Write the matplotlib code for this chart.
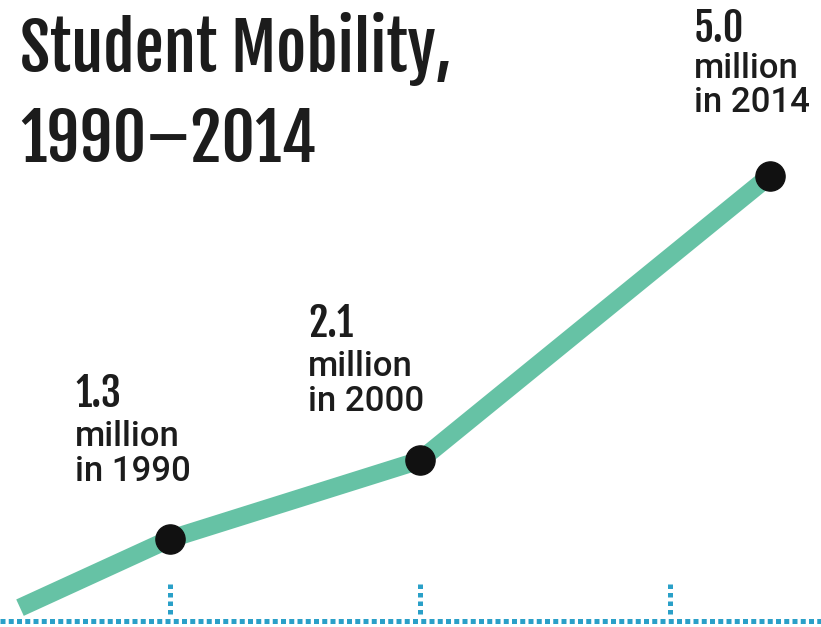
import matplotlib.pyplot as plt

# data
years = [1984, 1990, 2000, 2014]
students = [0.6, 1.3, 2.1, 5.0]          # millions of mobile students
marked_years = [1990, 2000, 2014]
marked_values = [1.3, 2.1, 5.0]
tick_years = [1990, 2000, 2010]

W, H = 821, 627
line_color = '#66c2a5'
dot_color = '#2aa0c8'
ink = '#1c1c1c'
head_font = ['Fjalla One', 'Roboto Condensed', 'DejaVu Sans']
body_font = ['Roboto', 'DejaVu Sans']

fig = plt.figure(figsize=(W / 100, H / 100), dpi=100)
ax = fig.add_axes([0, 0, 1, 1])
ax.set_xlim(1983.2, 2016.04)
ax.set_ylim(0.403, 6.788)
ax.axis('off')

# dotted baseline + dotted ticks
base = 0.46
ax.axhline(base, color=dot_color, lw=3.6, ls=(0, (1.0, 0.65)))
for yr in tick_years:
    ax.plot([yr, yr], [base + 0.08, 0.88], color=dot_color, lw=3.6, ls=(0, (0.9, 0.8)))

ax.plot(years, students, color=line_color, lw=13, solid_capstyle='butt',
        solid_joinstyle='round', zorder=3)
ax.plot(marked_years, marked_values, 'o', color='#111111', ms=21, zorder=4)

# title
fig.text(20 / W, 1 - 72 / H, 'Student Mobility,', family=head_font,
         fontsize=47, va='baseline', ha='left', color=ink)
fig.text(20 / W, 1 - 162 / H, '1990–2014', family=head_font,
         fontsize=47, va='baseline', ha='left', color=ink)

# point labels: (left x, number baseline, "million" baseline, "in yyyy" baseline) in pixels
label_px = [(75, 407, 446, 481), (308, 337, 376, 411), (694, 42, 78, 112)]
for (lx, b1, b2, b3), yr, v in zip(label_px, marked_years, marked_values):
    fig.text(lx / W, 1 - b1 / H, f'{v:.1f}', family=head_font,
             fontsize=29, va='baseline', ha='left', color=ink)
    fig.text(lx / W, 1 - b2 / H, 'million', family=body_font, fontsize=25,
             weight=500, va='baseline', ha='left', color=ink)
    fig.text(lx / W, 1 - b3 / H, f'in {yr}', family=body_font, fontsize=25,
             weight=500, va='baseline', ha='left', color=ink)

fig.savefig('out.png', dpi=100)
